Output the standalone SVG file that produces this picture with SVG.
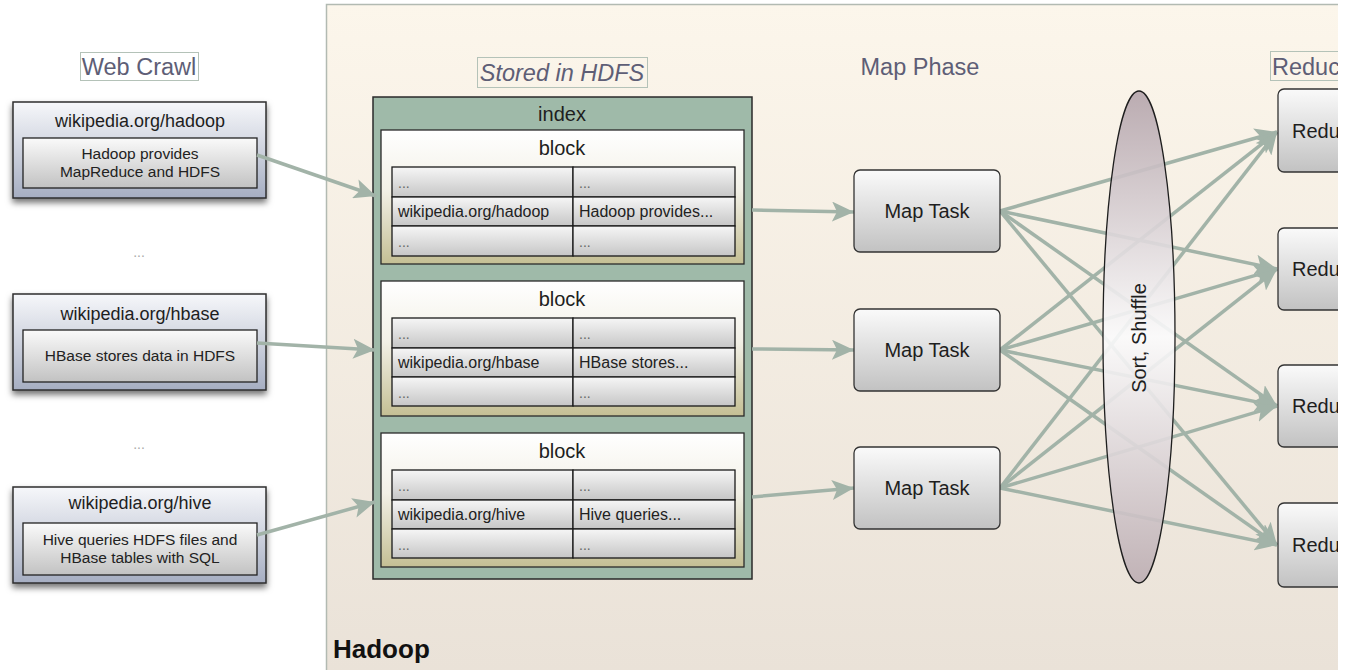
<svg xmlns="http://www.w3.org/2000/svg" width="1352" height="670" viewBox="0 0 1352 670">
<defs>
<linearGradient id="gPanel" x1="0" y1="0" x2="0" y2="1"><stop offset="0" stop-color="#fcf6eb"/><stop offset="1" stop-color="#e9e1d7"/></linearGradient>
<linearGradient id="gSrc" x1="0" y1="0" x2="0" y2="1"><stop offset="0" stop-color="#f6f7fa"/><stop offset="1" stop-color="#a6aec2"/></linearGradient>
<linearGradient id="gGray" x1="0" y1="0" x2="0" y2="1"><stop offset="0" stop-color="#fafafa"/><stop offset="1" stop-color="#c2c2c2"/></linearGradient>
<linearGradient id="gCell" x1="0" y1="0" x2="0" y2="1"><stop offset="0" stop-color="#f6f6f6"/><stop offset="1" stop-color="#c6c6c6"/></linearGradient>
<linearGradient id="gBlock" x1="0" y1="0" x2="0" y2="1"><stop offset="0" stop-color="#ffffff"/><stop offset="0.45" stop-color="#f2f0e6"/><stop offset="1" stop-color="#c4bf94"/></linearGradient>
<linearGradient id="gEll" x1="0" y1="0" x2="0" y2="1"><stop offset="0" stop-color="#b4a4ab"/><stop offset="0.5" stop-color="#fbfbfc"/><stop offset="1" stop-color="#bcadb2"/></linearGradient>
<filter id="shadow" x="-10%" y="-10%" width="120%" height="135%"><feDropShadow dx="0" dy="4" stdDeviation="3" flood-color="#000" flood-opacity="0.55"/></filter>
<clipPath id="clipR"><rect x="0" y="0" width="1338" height="670"/></clipPath>
<marker id="arr" markerUnits="userSpaceOnUse" markerWidth="24" markerHeight="20" refX="22" refY="10" orient="auto"><path d="M0,0 L22,10 L0,20 L5,10 z" fill="#a2b3a8"/></marker>
<style>
text{font-family:"Liberation Sans",Arial,Helvetica,sans-serif;}
.src{fill:url(#gSrc);stroke:#2e2e2e;stroke-width:1.5;}
.inner{fill:url(#gGray);stroke:#222;stroke-width:1.3;}
.t18{font-size:18px;fill:#1e1e1e;text-anchor:middle;}
.t16{font-size:15.5px;fill:#222;text-anchor:middle;}
.lbl{font-size:23.5px;fill:#5e5e76;}
.mid{text-anchor:middle;}
.lblbox{fill:none;stroke:#b4c2b8;stroke-width:1;}
.hd{font-size:20px;fill:#1e1e1e;text-anchor:middle;}
.block{fill:url(#gBlock);stroke:#2a2a2a;stroke-width:1.3;}
.cell{fill:url(#gCell);stroke:#1a1a1a;stroke-width:1.3;}
.ct{font-size:16px;fill:#222;}
.dots{font-size:14px;fill:#666;}
.task{fill:url(#gGray);stroke:#333;stroke-width:1.3;}
.tt{font-size:20px;fill:#1e1e1e;text-anchor:middle;}
.rt{font-size:20px;fill:#1e1e1e;}
.conn{stroke:#a2b3a8;stroke-width:3.5;fill:none;marker-end:url(#arr);}
</style>
</defs>
<rect x="0" y="0" width="1352" height="670" fill="#ffffff"/>
<g clip-path="url(#clipR)">
<g id="hadoop">
<rect x="326.5" y="4.5" width="1040" height="700" fill="url(#gPanel)" stroke="#b2bab2" stroke-width="1.5"/>
<text x="333" y="658" font-size="26" font-weight="bold" fill="#111">Hadoop</text>
</g>

<g id="label-webcrawl">
<rect class="lblbox" x="80.5" y="52.5" width="118" height="28"/>
<text class="lbl mid" x="139" y="75">Web Crawl</text>
</g>
<g id="label-hdfs">
<rect class="lblbox" x="477.5" y="57.5" width="170" height="30"/>
<text class="lbl mid" x="562" y="81" font-style="italic">Stored in HDFS</text>
</g>
<g id="label-map">
<text class="lbl mid" x="920" y="75">Map Phase</text>
</g>
<g id="label-reduce">
<rect class="lblbox" x="1270.5" y="51.5" width="80" height="29"/>
<text class="lbl" x="1272" y="75">Reduc</text>
</g>

<g id="src-hadoop">
<rect class="src" x="13" y="102" width="253" height="96" filter="url(#shadow)"/>
<text class="t18" x="140" y="127">wikipedia.org/hadoop</text>
<rect class="inner" x="23" y="138" width="234" height="50"/>
<text class="t16" x="140" y="159">Hadoop provides</text>
<text class="t16" x="140" y="177">MapReduce and HDFS</text>
</g>
<g id="dots1"><text x="139" y="257" font-size="14" fill="#aaaaaa" text-anchor="middle">...</text></g>
<g id="src-hbase">
<rect class="src" x="13" y="294" width="253" height="96" filter="url(#shadow)"/>
<text class="t18" x="140" y="320">wikipedia.org/hbase</text>
<rect class="inner" x="23" y="330" width="234" height="52"/>
<text class="t16" x="140" y="361">HBase stores data in HDFS</text>
</g>
<g id="dots2"><text x="139" y="449" font-size="14" fill="#aaaaaa" text-anchor="middle">...</text></g>
<g id="src-hive">
<rect class="src" x="13" y="487" width="253" height="96" filter="url(#shadow)"/>
<text class="t18" x="140" y="509">wikipedia.org/hive</text>
<rect class="inner" x="23" y="523" width="234" height="52"/>
<text class="t16" x="140" y="545">Hive queries HDFS files and</text>
<text class="t16" x="140" y="563">HBase tables with SQL</text>
</g>

<g id="index">
<rect x="373" y="97" width="379" height="482" fill="#9fbaa9" stroke="#2a2a2a" stroke-width="1.5"/>
<text class="hd" x="562" y="121">index</text>
</g>
<g id="block1">
<rect class="block" x="381" y="130" width="363" height="134"/>
<text class="hd" x="562" y="155">block</text>
<rect class="cell" x="392" y="167" width="181" height="30"/><rect class="cell" x="573" y="167" width="162" height="30"/>
<rect class="cell" x="392" y="197" width="181" height="29"/><rect class="cell" x="573" y="197" width="162" height="29"/>
<rect class="cell" x="392" y="226" width="181" height="30"/><rect class="cell" x="573" y="226" width="162" height="30"/>
<text class="dots" x="398" y="188">...</text><text class="dots" x="579" y="188">...</text>
<text class="ct" x="398" y="217">wikipedia.org/hadoop</text><text class="ct" x="579" y="217">Hadoop provides...</text>
<text class="dots" x="398" y="247">...</text><text class="dots" x="579" y="247">...</text>
</g>
<g id="block2">
<rect class="block" x="381" y="281" width="363" height="135"/>
<text class="hd" x="562" y="306">block</text>
<rect class="cell" x="392" y="318" width="181" height="30"/><rect class="cell" x="573" y="318" width="162" height="30"/>
<rect class="cell" x="392" y="348" width="181" height="29"/><rect class="cell" x="573" y="348" width="162" height="29"/>
<rect class="cell" x="392" y="377" width="181" height="29"/><rect class="cell" x="573" y="377" width="162" height="29"/>
<text class="dots" x="398" y="339">...</text><text class="dots" x="579" y="339">...</text>
<text class="ct" x="398" y="368">wikipedia.org/hbase</text><text class="ct" x="579" y="368">HBase stores...</text>
<text class="dots" x="398" y="398">...</text><text class="dots" x="579" y="398">...</text>
</g>
<g id="block3">
<rect class="block" x="381" y="433" width="363" height="134"/>
<text class="hd" x="562" y="458">block</text>
<rect class="cell" x="392" y="470" width="181" height="30"/><rect class="cell" x="573" y="470" width="162" height="30"/>
<rect class="cell" x="392" y="500" width="181" height="29"/><rect class="cell" x="573" y="500" width="162" height="29"/>
<rect class="cell" x="392" y="529" width="181" height="29"/><rect class="cell" x="573" y="529" width="162" height="29"/>
<text class="dots" x="398" y="491">...</text><text class="dots" x="579" y="491">...</text>
<text class="ct" x="398" y="520">wikipedia.org/hive</text><text class="ct" x="579" y="520">Hive queries...</text>
<text class="dots" x="398" y="550">...</text><text class="dots" x="579" y="550">...</text>
</g>

<g id="connectors">
<path class="conn" d="M257,155 L376,196"/>
<path class="conn" d="M257,343 L375,350"/>
<path class="conn" d="M257,535 L375,502"/>
<path class="conn" d="M752,210 L854,212"/>
<path class="conn" d="M752,349 L854,350"/>
<path class="conn" d="M752,497 L854,488"/>
<path class="conn" d="M1000,211 L1277,132"/>
<path class="conn" d="M1000,211 L1277,269"/>
<path class="conn" d="M1000,211 L1277,406"/>
<path class="conn" d="M1000,211 L1277,545"/>
<path class="conn" d="M1000,350 L1277,132"/>
<path class="conn" d="M1000,350 L1277,269"/>
<path class="conn" d="M1000,350 L1277,406"/>
<path class="conn" d="M1000,350 L1277,545"/>
<path class="conn" d="M1000,488 L1277,132"/>
<path class="conn" d="M1000,488 L1277,269"/>
<path class="conn" d="M1000,488 L1277,406"/>
<path class="conn" d="M1000,488 L1277,545"/>
</g>

<g id="map1"><rect class="task" x="854" y="170" width="146" height="82" rx="6"/><text class="tt" x="927" y="218">Map Task</text></g>
<g id="map2"><rect class="task" x="854" y="309" width="146" height="82" rx="6"/><text class="tt" x="927" y="357">Map Task</text></g>
<g id="map3"><rect class="task" x="854" y="447" width="146" height="82" rx="6"/><text class="tt" x="927" y="495">Map Task</text></g>

<g id="shuffle">
<ellipse cx="1139" cy="337" rx="36" ry="246" fill="url(#gEll)" fill-opacity="0.9" stroke="#1e1e1e" stroke-width="1.3"/>
<text class="tt" font-size="21" transform="translate(1146,338) rotate(-90)">Sort, Shuffle</text>
</g>

<g id="reduce1"><rect class="task" x="1278" y="89" width="146" height="83" rx="6"/><text class="rt" x="1292" y="138">Redu</text></g>
<g id="reduce2"><rect class="task" x="1278" y="228" width="146" height="82" rx="6"/><text class="rt" x="1292" y="276">Redu</text></g>
<g id="reduce3"><rect class="task" x="1278" y="365" width="146" height="82" rx="6"/><text class="rt" x="1292" y="413">Redu</text></g>
<g id="reduce4"><rect class="task" x="1278" y="503" width="146" height="84" rx="6"/><text class="rt" x="1292" y="552">Redu</text></g>
</g>
</svg>
